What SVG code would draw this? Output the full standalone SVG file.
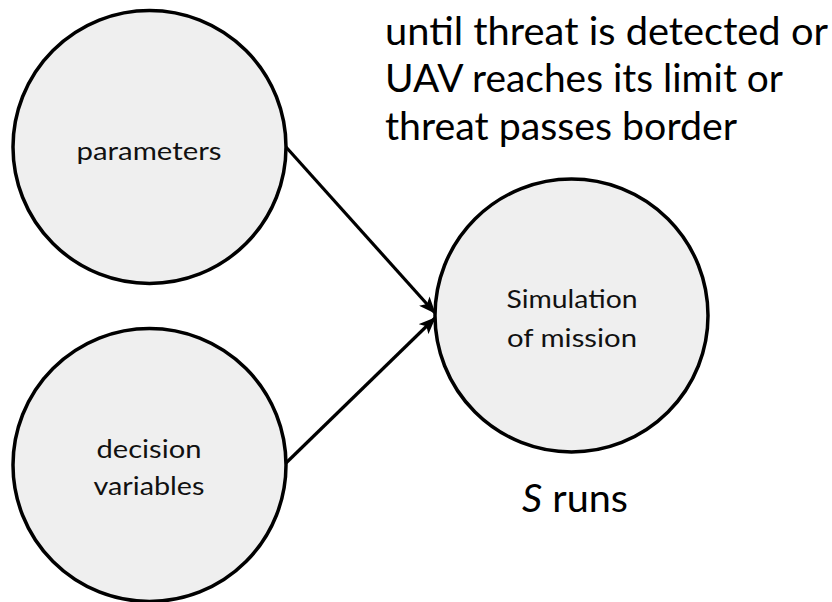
<svg xmlns="http://www.w3.org/2000/svg" width="832" height="602" viewBox="0 0 832 602">
<style>
.node{fill:#efefef;stroke:#000;stroke-width:3.5}
.lbl{font-family:Lato,"Liberation Sans",sans-serif;font-size:25px;fill:#111;text-anchor:middle}
.big{font-family:Lato,"Liberation Sans",sans-serif;font-size:39px;fill:#000}
.edge{stroke:#000;stroke-width:3.2;fill:none}
</style>
<defs>
<marker id="ah" markerWidth="17" markerHeight="14" refX="16" refY="7" orient="auto" markerUnits="userSpaceOnUse" viewBox="0 0 17 14">
<path d="M0,0 L17,7 L0,14 L4,7 Z" fill="#000"/>
</marker>
</defs>
<rect width="832" height="602" fill="#fff"/>
<g id="connectors">
<line class="edge" x1="286" y1="147" x2="435" y2="313" marker-end="url(#ah)"/>
<line class="edge" x1="286" y1="463" x2="435" y2="318" marker-end="url(#ah)"/>
</g>
<g id="parameters">
<circle class="node" cx="149.5" cy="147" r="136.5"/>
<text class="lbl" x="149" y="160" textLength="145" lengthAdjust="spacingAndGlyphs">parameters</text>
</g>
<g id="decision-variables">
<circle class="node" cx="149.5" cy="465" r="136.5"/>
<text class="lbl" x="149" y="458" textLength="105" lengthAdjust="spacingAndGlyphs">decision</text>
<text class="lbl" x="149" y="495" textLength="111" lengthAdjust="spacingAndGlyphs">variables</text>
</g>
<g id="simulation">
<circle class="node" cx="571.5" cy="315.5" r="136.5"/>
<text class="lbl" x="572" y="308" textLength="131" lengthAdjust="spacingAndGlyphs">Simulation</text>
<text class="lbl" x="572" y="347" textLength="130" lengthAdjust="spacingAndGlyphs">of mission</text>
</g>
<g id="condition">
<text class="big" x="385" y="45" textLength="443" lengthAdjust="spacingAndGlyphs">until threat is detected or</text>
<text class="big" x="385" y="92" textLength="398" lengthAdjust="spacingAndGlyphs">UAV reaches its limit or</text>
<text class="big" x="385" y="140" textLength="352" lengthAdjust="spacingAndGlyphs">threat passes border</text>
</g>
<g id="runs">
<text class="big" x="522" y="512" textLength="106" lengthAdjust="spacingAndGlyphs"><tspan font-style="italic">S</tspan> runs</text>
</g>
</svg>
